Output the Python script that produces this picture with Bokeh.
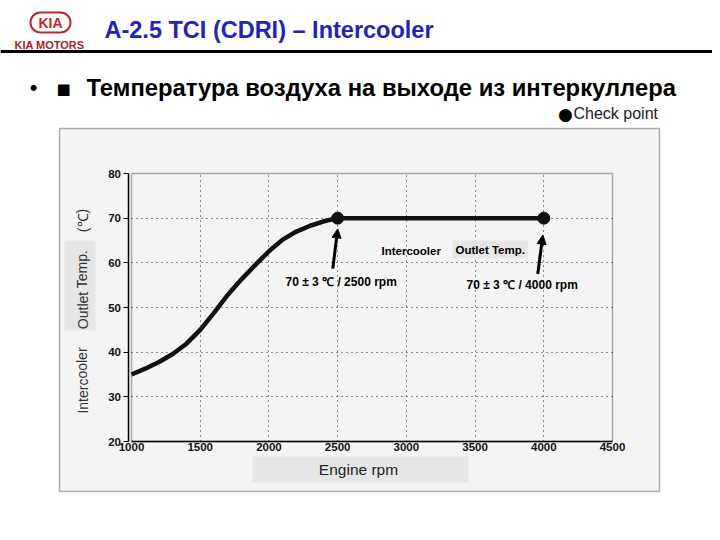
from bokeh.plotting import figure
from bokeh.models import (Range1d, Label, BoxAnnotation, Arrow, NormalHead, FixedTicker,
                          LinearAxis, Grid)
from bokeh.embed import file_html
from bokeh.resources import INLINE

# ---- data ----
rpm = [1000, 1100, 1200, 1300, 1400, 1500, 1600, 1700, 1800, 1900, 2000,
       2100, 2200, 2300, 2400, 2500, 3000, 3500, 4000]
temp = [35.0, 36.3, 37.8, 39.6, 41.9, 45.0, 48.8, 52.8, 56.3, 59.5, 62.6,
        65.2, 67.0, 68.3, 69.3, 70.0, 70.0, 70.0, 70.0]
check_rpm = [2500, 4000]
check_temp = [70, 70]
x_ticks = [1000, 1500, 2000, 2500, 3000, 3500, 4000, 4500]
y_ticks = [20, 30, 40, 50, 60, 70, 80]
check_labels = ["70 \u00b1  3 \u2103 / 2500 rpm", "70 \u00b1  3 \u2103 / 4000 rpm"]

W, H = 712, 532
FL, FR, FT, FB = 131, 612, 173, 441  # chart box on page
XMIN, XMAX, YMIN, YMAX = x_ticks[0], x_ticks[-1], y_ticks[0], y_ticks[-1]
sx = (XMAX - XMIN) / (FR - FL)
sy = (YMAX - YMIN) / (FB - FT)

p = figure(width=W, height=H, output_backend="svg", toolbar_location=None,
           x_range=Range1d(XMIN - FL * sx, XMAX + (W - FR) * sx),
           y_range=Range1d(YMIN - (H - FB) * sy, YMAX + FT * sy),
           x_axis_location=None, y_axis_location=None,
           min_border=0)
p.border_fill_color = "white"
p.background_fill_color = "white"
p.outline_line_color = None
p.xgrid.visible = False
p.ygrid.visible = False


def box(l, r, t, b, color, level="image", **kw):
    p.add_layout(BoxAnnotation(left=l, right=r, top=t, bottom=b,
                               left_units="canvas", right_units="canvas",
                               top_units="canvas", bottom_units="canvas",
                               fill_color=color, level=level, **kw))


box(59, 659, 128, 491, "#f4f4f4", fill_alpha=1, line_color="black", line_width=1.5)
box(0, 712, 49.5, 52.5, "black", fill_alpha=1, line_alpha=0)
box(252, 468, 456, 482, "#e6e6e6", fill_alpha=1, line_alpha=0)
box(64, 95, 240, 330, "#e6e6e6", fill_alpha=1, line_alpha=0)

# grids restricted to the chart box
xg = Grid(dimension=0, ticker=FixedTicker(ticks=x_ticks[1:-1]), cross_bounds=(YMIN, YMAX),
          grid_line_color="#222222", grid_line_dash="1 4", grid_line_width=1)
yg = Grid(dimension=1, ticker=FixedTicker(ticks=y_ticks[1:-1]), cross_bounds=(XMIN, XMAX),
          grid_line_color="#222222", grid_line_dash="1 4", grid_line_width=1)
p.add_layout(xg)
p.add_layout(yg)

# chart frame
p.add_layout(BoxAnnotation(left=XMIN, right=XMAX, bottom=YMIN, top=YMAX,
                           fill_alpha=0, line_color="black", line_width=1.5,
                           level="underlay"))

# axes (y axis line sits a few pixels left of the frame, as in the original)
xaxis = LinearAxis(fixed_location=YMIN, bounds=(XMIN, XMAX), ticker=FixedTicker(ticks=x_ticks))
yaxis = LinearAxis(fixed_location=XMIN - 3.5 * sx, bounds=(YMIN, YMAX),
                   ticker=FixedTicker(ticks=y_ticks))
for ax in (xaxis, yaxis):
    ax.axis_line_color = "black"
    ax.axis_line_width = 1.5
    ax.major_label_text_font = "Liberation Sans"
    ax.major_label_text_font_style = "bold"
    ax.major_label_text_font_size = "11.5px"
    ax.major_label_text_color = "#111111"
    ax.minor_tick_line_color = None
yaxis.major_tick_out = 5
yaxis.major_tick_in = 0
yaxis.major_label_standoff = 2
xaxis.major_tick_out = 0
xaxis.major_tick_in = 0
xaxis.major_label_standoff = 1
p.add_layout(xaxis, "below")
p.add_layout(yaxis, "left")

# data
p.line(rpm, temp, line_color="#111111", line_width=4.5)
p.scatter(check_rpm, check_temp, size=12, color="#111111")

# arrows
for (x0, y0, x1, y1) in [(2465, 58.7, 2500, 67.6), (3956, 57.5, 3993, 66.2)]:
    p.add_layout(Arrow(end=NormalHead(size=9, fill_color="black", line_color="black"),
                       x_start=x0, y_start=y0, x_end=x1, y_end=y1,
                       line_width=3, line_color="black"))


def lab(x, y, text, size, style="normal", color="black", align="left",
        baseline="middle", angle=0, font="Liberation Sans", **kw):
    l = Label(x=x, y=y, x_units="canvas", y_units="canvas", text=text,
              text_font_size=size, text_font_style=style,
              text_color=color, text_align=align, text_baseline=baseline,
              angle=angle, text_font=font, **kw)
    p.add_layout(l)
    return l


# annotations inside chart
lab(381, 250, "Intercooler", "11.5px", "bold")
lab(452, 249, "Outlet Temp.", "11.5px", "bold", background_fill_color="#e6e6e6",
    padding=3)
lab(285, 281, check_labels[0], "12px", "bold")
lab(466, 284, check_labels[1], "12px", "bold")

# axis titles
lab(358, 469, "Engine rpm", "15.5px", align="center", color="#222222")
lab(82, 380, "Intercooler", "14px", align="center", angle=1.5708, color="#333333")
lab(82, 289, "Outlet Temp.", "14px", align="center", angle=1.5708, color="#333333")
lab(82, 220, "(\u2103)", "14px", align="center", angle=1.5708, color="#333333")

# header
lab(50, 22, "KIA", "14px", "bold", color="#c0272d", align="center",
    border_line_color="#c0272d", border_line_width=2, border_radius=11, padding=(8, 2))
lab(49, 44, "KIA MOTORS", "11px", "bold", color="#a3262b", align="center")
lab(104, 29, "A-2.5 TCI (CDRI) \u2013 Intercooler", "23.5px", "bold", color="#2222c0")
lab(33, 87, "\u2022", "22px", align="center")
lab(63, 88, "\u25a0", "15px", align="center", font="DejaVu Sans")
lab(86, 87, "\u0422\u0435\u043c\u043f\u0435\u0440\u0430\u0442\u0443\u0440\u0430 "
    "\u0432\u043e\u0437\u0434\u0443\u0445\u0430 \u043d\u0430 \u0432\u044b\u0445\u043e\u0434\u0435 "
    "\u0438\u0437 \u0438\u043d\u0442\u0435\u0440\u043a\u0443\u043b\u043b\u0435\u0440\u0430",
    "23.8px", "bold")
lab(565, 113, "\u25cf", "17px", align="center", font="DejaVu Sans")
lab(573, 113, "Check point", "16px", color="#222222")

open("out.html", "w").write(file_html(p, INLINE))
